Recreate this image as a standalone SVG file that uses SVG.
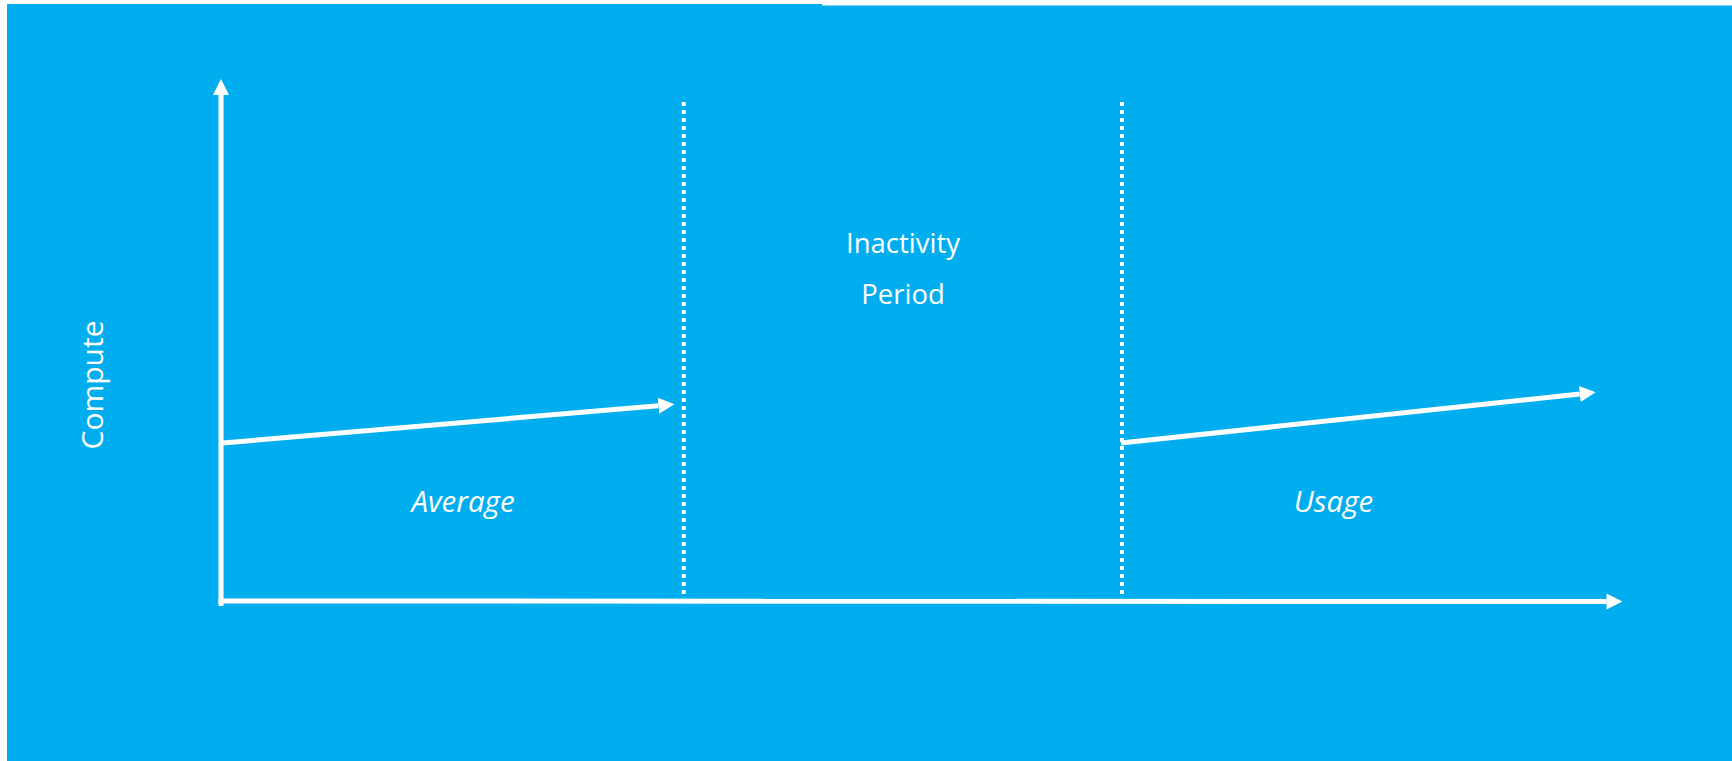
<svg xmlns="http://www.w3.org/2000/svg" width="1732" height="761" viewBox="0 0 1732 761">
  <style>
    .bg { fill: #00aeef; }
    .axis { stroke: #ffffff; stroke-width: 5; fill: none; }
    .trend { stroke: #ffffff; stroke-width: 5; fill: none; stroke-linecap: butt; }
    .divider { stroke: #ffffff; stroke-width: 4; stroke-dasharray: 4 4; fill: none; }
    .lbl { fill: #ffffff; font-family: "Open Sans", "Noto Sans", "DejaVu Sans", sans-serif; font-size: 27.5px; }
    .lbl-axis { font-size: 30px; }
    .lbl-i { fill: #ffffff; font-family: "Open Sans", "Noto Sans", "DejaVu Sans", sans-serif; font-size: 29.5px; font-style: italic; }
  </style>
  <defs>
    <marker id="head" markerUnits="userSpaceOnUse" markerWidth="16" markerHeight="16" refX="0" refY="8" orient="auto" viewBox="0 0 16 16">
      <path d="M0,0 L16,8 L0,16 Z" fill="#ffffff"/>
    </marker>
  </defs>

  <!-- panel background with its small step along the top edge -->
  <g id="background">
    <path class="bg" d="M7,4 H822 V5.5 H1732 V761 H7 Z"/>
  </g>

  <!-- chart axes -->
  <g id="axes">
    <line id="y-axis" class="axis" x1="221" y1="606" x2="221" y2="95" marker-end="url(#head)"/>
    <line id="x-axis" class="axis" x1="218.5" y1="601" x2="1606.5" y2="601.5" marker-end="url(#head)"/>
  </g>

  <!-- phase dividers -->
  <g id="dividers">
    <line class="divider" x1="683.7" y1="102" x2="683.7" y2="597"/>
    <line class="divider" x1="1122" y1="102" x2="1122" y2="597"/>
  </g>

  <!-- compute trend connectors -->
  <g id="connectors">
    <line id="trend-average" class="trend" x1="223" y1="443" x2="658.4" y2="405.7" marker-end="url(#head)"/>
    <line id="trend-usage" class="trend" x1="1121" y1="443" x2="1579.8" y2="394" marker-end="url(#head)"/>
  </g>

  <g id="label-compute">
    <text class="lbl lbl-axis" text-anchor="middle" transform="translate(103,385) rotate(-90)">Compute</text>
  </g>
  <g id="label-inactivity">
    <text class="lbl" text-anchor="middle" x="903" y="253.3">Inactivity</text>
    <text class="lbl" text-anchor="middle" x="903" y="304">Period</text>
  </g>
  <g id="label-average">
    <text class="lbl-i" text-anchor="middle" x="463" y="512.3">Average</text>
  </g>
  <g id="label-usage">
    <text class="lbl-i" text-anchor="middle" x="1333.5" y="512.3">Usage</text>
  </g>
</svg>
